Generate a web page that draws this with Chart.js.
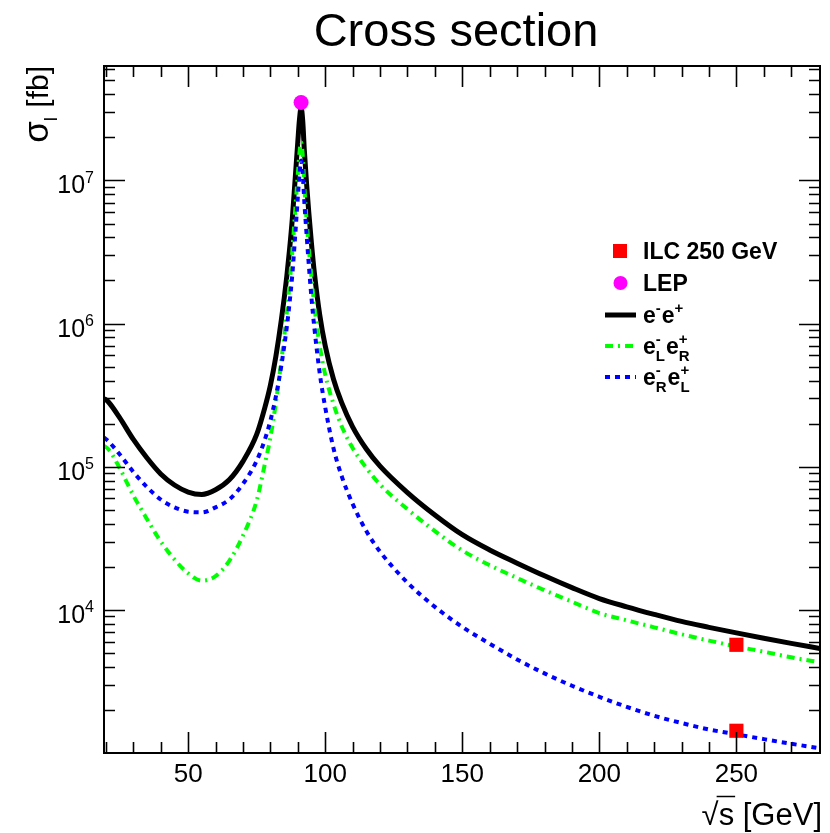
<!DOCTYPE html>
<html>
<head>
<meta charset="utf-8">
<script src="https://cdn.jsdelivr.net/npm/chart.js@4.4.1/dist/chart.umd.min.js"></script>
<style>
  html, body { margin: 0; padding: 0; background: #fff; }
</style>
</head>
<body>
<canvas id="grafica" width="830" height="833"></canvas>
<script>
// sqrt(s) en GeV
const energia = [19.3, 21, 25, 30, 35, 40, 45, 50, 55, 60,
  65, 70, 75, 78, 80, 82, 84, 86, 87, 88,
  89, 90, 90.6, 91.2, 91.8, 92.4, 93.2, 94, 95, 96,
  98, 100, 103, 106, 110, 115, 120, 130, 140, 150,
  160, 170, 180, 190, 200, 210, 220, 230, 240, 250,
  260, 270, 280.5];

// sigma en fb
const sigmaNoPol = [3.0e5, 2.82e5, 2.2e5, 1.55e5, 1.15e5, 8.9e4, 7.45e4, 6.65e4, 6.4e4, 6.9e4,
  8.1e4, 1.09e5, 1.68e5, 2.6e5, 3.7e5, 5.9e5, 1.06e6, 2.15e6, 3.3e6, 5.4e6,
  1.0e7, 1.86e7, 2.65e7, 3.23e7, 2.6e7, 1.6e7, 9.5e6, 6.0e6, 3.6e6, 2.3e6,
  1.15e6, 7.0e5, 4.1e5, 2.8e5, 1.9e5, 1.33e5, 1.01e5, 6.6e4, 4.6e4, 3.35e4,
  2.62e4, 2.12e4, 1.73e4, 1.43e4, 1.2e4, 1.05e4, 9.3e3, 8.3e3, 7.55e3, 6.9e3,
  6.33e3, 5.83e3, 5.37e3];

const sigmaLR = [1.4e5, 1.32e5, 9.8e4, 6.3e4, 4.3e4, 3.0e4, 2.25e4, 1.8e4, 1.6e4, 1.72e4,
  2.2e4, 3.3e4, 5.8e4, 1.05e5, 1.6e5, 2.8e5, 5.5e5, 1.2e6, 1.9e6, 3.2e6,
  6.0e6, 1.1e7, 1.55e7, 1.85e7, 1.5e7, 9.0e6, 5.3e6, 3.4e6, 2.1e6, 1.35e6,
  7.0e5, 4.4e5, 2.75e5, 1.92e5, 1.35e5, 9.8e4, 7.5e4, 5.05e4, 3.55e4, 2.6e4,
  2.05e4, 1.67e4, 1.37e4, 1.14e4, 9.5e3, 8.45e3, 7.55e3, 6.75e3, 6.1e3, 5.55e3,
  5.1e3, 4.66e3, 4.3e3];

const sigmaRL = [1.6e5, 1.5e5, 1.22e5, 9.2e4, 7.2e4, 5.9e4, 5.2e4, 4.85e4, 4.8e4, 5.2e4,
  5.9e4, 7.6e4, 1.1e5, 1.55e5, 2.1e5, 3.1e5, 5.1e5, 9.5e5, 1.4e6, 2.2e6,
  4.0e6, 7.6e6, 1.1e7, 1.38e7, 1.1e7, 7.0e6, 4.2e6, 2.6e6, 1.5e6, 9.5e5,
  4.5e5, 2.6e5, 1.35e5, 8.6e4, 5.5e4, 3.55e4, 2.55e4, 1.55e4, 1.05e4, 7.6e3,
  5.8e3, 4.5e3, 3.6e3, 2.95e3, 2.47e3, 2.1e3, 1.82e3, 1.62e3, 1.46e3, 1.35e3,
  1.25e3, 1.16e3, 1.08e3];

const ilcE = [250, 250];
const ilcSigma = [5700, 1430];
const lepE = [91.2];
const lepSigma = [3.5e7];

const xTicks = [50, 100, 150, 200, 250];
const yTicks = [1e4, 1e5, 1e6, 1e7];

const FONT = '"Liberation Sans", Arial, sans-serif';
const pts = (xs, ys) => xs.map((x, i) => ({ x, y: ys[i] }));

// texto con super/subindices: partes = string | {sup, sub} | {t, size}
function textoRico(ctx, x, y, partes, size, bold) {
  const f = (s) => `${bold ? "bold " : ""}${s}px ${FONT}`;
  const small = Math.round(size * 0.64);
  let cx = x;
  partes.forEach(p => {
    if (typeof p === "string" || p.t) {
      const t = typeof p === "string" ? p : p.t;
      ctx.font = f(p.size || size);
      ctx.fillText(t, cx, y);
      cx += ctx.measureText(t).width;
    } else {
      ctx.font = f(small);
      let w = 0;
      if (p.sup) { ctx.fillText(p.sup, cx, y - size * 0.42); w = Math.max(w, ctx.measureText(p.sup).width); }
      if (p.sub) { ctx.fillText(p.sub, cx, y + size * 0.3); w = Math.max(w, ctx.measureText(p.sub).width); }
      cx += w + 1;
    }
  });
  return cx - x;
}
function anchoRico(ctx, partes, size, bold) {
  ctx.save(); ctx.globalAlpha = 0;
  const w = textoRico(ctx, 0, 0, partes, size, bold);
  ctx.restore();
  return w;
}

const ejes = {
  id: "ejes",
  afterDatasetsDraw(chart) {
    const { ctx, chartArea: a, scales: { x: sx, y: sy } } = chart;
    ctx.save();
    ctx.strokeStyle = "#000";
    ctx.fillStyle = "#000";
    ctx.lineWidth = 2;
    ctx.strokeRect(a.left, a.top, a.right - a.left, a.bottom - a.top);

    // ticks x (abajo y arriba)
    ctx.lineWidth = 1.6;
    ctx.beginPath();
    for (let v = 20; v <= 280; v += 10) {
      const px = Math.round(sx.getPixelForValue(v)) + 0.5;
      if (px <= a.left + 1 || px >= a.right - 1) continue;
      const len = v % 50 === 0 ? 21 : 11;
      ctx.moveTo(px, a.bottom); ctx.lineTo(px, a.bottom - len);
      ctx.moveTo(px, a.top); ctx.lineTo(px, a.top + len);
    }
    // ticks y (log)
    for (let e = 3; e <= 7; e++) {
      for (let m = 1; m <= 9; m++) {
        const v = m * Math.pow(10, e);
        if (v <= sy.min || v >= sy.max) continue;
        const py = Math.round(sy.getPixelForValue(v)) + 0.5;
        const len = m === 1 ? 21 : 11;
        ctx.moveTo(a.left, py); ctx.lineTo(a.left + len, py);
        ctx.moveTo(a.right, py); ctx.lineTo(a.right - len, py);
      }
    }
    ctx.stroke();

    // etiquetas x
    ctx.font = `26px ${FONT}`;
    ctx.textAlign = "center";
    ctx.textBaseline = "alphabetic";
    xTicks.forEach(v => ctx.fillText(String(v), sx.getPixelForValue(v), 782));

    // etiquetas y: 10^n
    ctx.textAlign = "left";
    yTicks.forEach(v => {
      const n = Math.round(Math.log10(v));
      const partes = ["10", { sup: String(n) }];
      const w = anchoRico(ctx, partes, 25, false);
      textoRico(ctx, 95 - w, sy.getPixelForValue(v) + 13, partes, 25, false);
    });

    // titulo
    ctx.font = `47px ${FONT}`;
    ctx.textAlign = "center";
    ctx.fillText("Cross section", 456, 46);

    // titulo eje x
    ctx.font = `31px ${FONT}`;
    ctx.textAlign = "right";
    const tx = "\u221As [GeV]";
    ctx.fillText(tx, 822, 825);
    const wTot = ctx.measureText(tx).width;
    const wRad = ctx.measureText("\u221A").width;
    const wS = ctx.measureText("s").width;
    const x0 = 822 - wTot;
    ctx.lineWidth = 1.5;
    ctx.beginPath();
    ctx.moveTo(x0 + wRad - 2, 796.5); ctx.lineTo(x0 + wRad + wS + 1, 796.5);
    ctx.stroke();

    // titulo eje y (rotado)
    ctx.textAlign = "left";
    const partesY = [{ t: "\u03C3", size: 35 }, { sub: "l" }, " [fb]"];
    const wY = anchoRico(ctx, partesY, 30, false);
    ctx.translate(48, a.top + wY);
    ctx.rotate(-Math.PI / 2);
    textoRico(ctx, 0, 0, partesY, 30, false);
    ctx.restore();

    dibujarLeyenda(chart);
  }
};

function dibujarLeyenda(chart) {
  const { ctx } = chart;
  const ds = chart.data.datasets;
  const filas = [251, 283, 315, 346, 377];
  const textos = [
    ["ILC 250 GeV"],
    ["LEP"],
    ["e", { sup: "-" }, "e", { sup: "+" }],
    ["e", { sup: "-", sub: "L" }, "e", { sup: "+", sub: "R" }],
    ["e", { sup: "-", sub: "R" }, "e", { sup: "+", sub: "L" }]
  ];
  ctx.save();
  ds.forEach((d, i) => {
    const y = filas[i];
    if (i === 0) {
      ctx.fillStyle = d.backgroundColor;
      ctx.fillRect(613, y - 7, 14, 14);
    } else if (i === 1) {
      ctx.fillStyle = d.backgroundColor;
      ctx.beginPath(); ctx.arc(620.5, y, 7, 0, Math.PI * 2); ctx.fill();
    } else {
      ctx.strokeStyle = d.borderColor;
      ctx.lineWidth = d.borderWidth;
      ctx.setLineDash(d.borderDash || []);
      ctx.beginPath(); ctx.moveTo(605, y); ctx.lineTo(636, y); ctx.stroke();
      ctx.setLineDash([]);
    }
    ctx.fillStyle = "#000";
    ctx.textAlign = "left";
    textoRico(ctx, 643, y + 8, textos[i], 23, true);
  });
  ctx.restore();
}

const curva = { pointRadius: 0, cubicInterpolationMode: "monotone", clip: 0 };

const chart = new Chart(document.getElementById("grafica"), {
  type: "line",
  data: {
    datasets: [
      { label: "ILC 250 GeV", data: pts(ilcE, ilcSigma), showLine: false, pointStyle: "rect",
        pointRadius: 10, backgroundColor: "#ff0000", borderWidth: 0, order: 0 },
      { label: "LEP", data: pts(lepE, lepSigma), showLine: false, pointStyle: "circle",
        pointRadius: 7.5, backgroundColor: "#ff00ff", borderWidth: 0, order: 1 },
      { ...curva, label: "e-e+", data: pts(energia, sigmaNoPol), borderColor: "#000000",
        borderWidth: 5, order: 4 },
      { ...curva, label: "eL eR", data: pts(energia, sigmaLR), borderColor: "#00ff00",
        borderWidth: 4, borderDash: [8, 5, 2, 5], order: 3 },
      { ...curva, label: "eR eL", data: pts(energia, sigmaRL), borderColor: "#0000ff",
        borderWidth: 4, borderDash: [5, 5], order: 2 }
    ]
  },
  options: {
    responsive: false,
    animation: false,
    devicePixelRatio: 1,
    layout: { padding: { left: 104, right: 7, top: 66, bottom: 80 } },
    plugins: { legend: { display: false }, tooltip: { enabled: false }, title: { display: false } },
    scales: {
      x: { type: "linear", min: 19.3, max: 280.5, display: false },
      y: { type: "logarithmic", min: 1000, max: 6.3e7, display: false }
    }
  },
  plugins: [ejes]
});
</script>
</body>
</html>
